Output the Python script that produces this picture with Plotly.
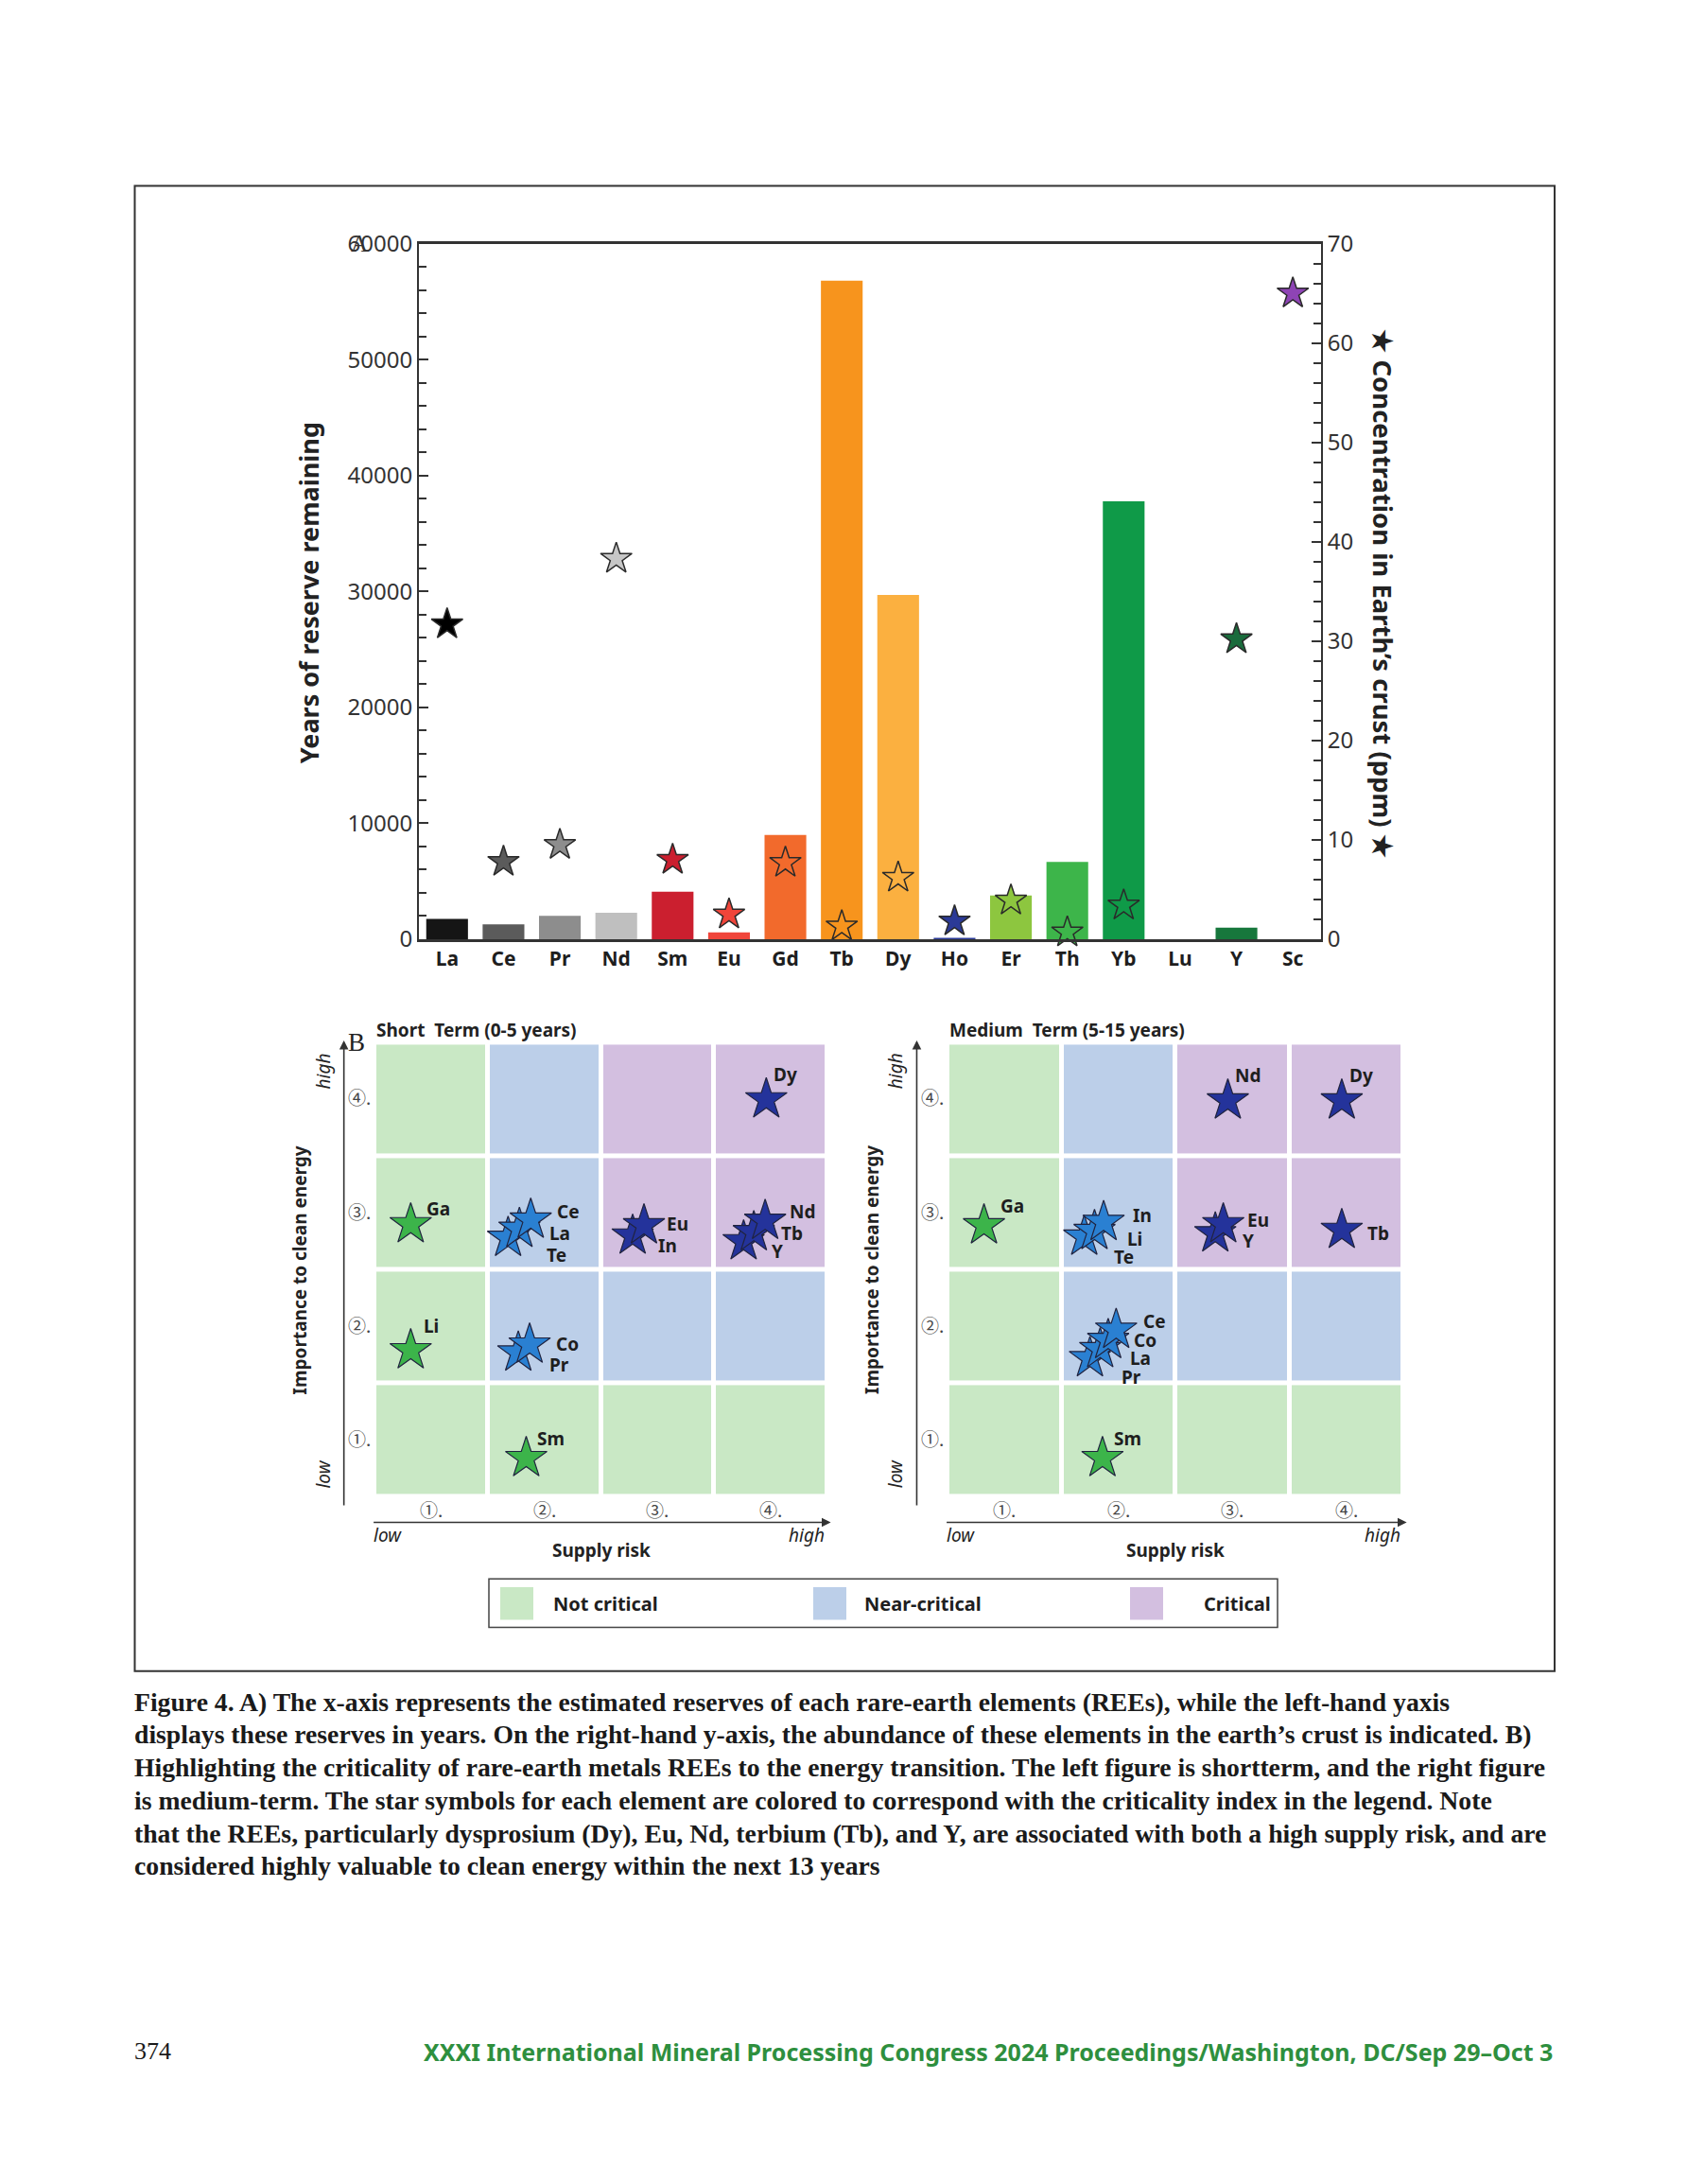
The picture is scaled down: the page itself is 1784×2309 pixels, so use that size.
import plotly.graph_objects as go

W, H = 1784, 2309

# ---------------- Panel A data ----------------
elements = ["La", "Ce", "Pr", "Nd", "Sm", "Eu", "Gd", "Tb", "Dy", "Ho", "Er", "Th", "Yb", "Lu", "Y", "Sc"]
reserve_years = [1750, 1290, 2020, 2280, 4090, 590, 9000, 56800, 29700, 120, 3770, 6660, 37780, None, 1000, None]
crust_ppm = [31.7, 7.8, 9.5, 38.3, 8.0, 2.5, 7.7, 1.3, 6.2, 1.8, 3.9, 0.7, 3.4, None, 30.2, 65.0]
left_ticks = [0, 10000, 20000, 30000, 40000, 50000, 60000]
right_ticks = [0, 10, 20, 30, 40, 50, 60, 70]

bar_colors = ["#151515", "#5b5b5b", "#8d8d8d", "#bfbfbf", "#cb1f2f", "#f0453a", "#f26a2c", "#f7941d",
              "#fbb040", "#2b3a97", "#8dc63f", "#3db54a", "#0f9a48", "#ffffff", "#17773c", "#ffffff"]
star_colors = ["#000000", "#5b5b5b", "#8d8d8d", "#c6c6c6", "#cb1f2f", "#f0453a", "#f26a2c", "#f7941d",
               "#fbb040", "#2b3a97", "#8dc63f", "#3db54a", "#0f9a48", "#ffffff", "#1a6b3c", "#8e44b5"]

# ---------------- Panel B data ----------------
circled = ["①.", "②.", "③.", "④."]
criticality_names = ["Not critical", "Near-critical", "Critical"]
criticality_colors = ["#c9e8c5", "#bccfe9", "#d3bfe0"]
# rows: importance 1..4 (bottom->top), cols: supply risk 1..4
criticality_grid = [[0, 0, 0, 0],
                    [0, 1, 1, 1],
                    [0, 1, 2, 2],
                    [0, 1, 2, 2]]
cell_centers = [0.5, 1.5, 2.5, 3.5]
star_class_colors = ["#3cb44a", "#2a80d2", "#24339b"]

short_elements = ["Dy", "Ga", "Te", "La", "Ce", "In", "Eu", "Y", "Tb", "Nd", "Li", "Pr", "Co", "Sm"]
short_risk = [3.46, 0.32, 1.18, 1.28, 1.38, 2.28, 2.38, 3.26, 3.35, 3.45, 0.32, 1.27, 1.37, 1.34]
short_importance = [3.50, 2.40, 2.28, 2.36, 2.44, 2.30, 2.39, 2.25, 2.33, 2.43, 1.29, 1.27, 1.34, 0.34]
short_class = [2, 0, 1, 1, 1, 2, 2, 2, 2, 2, 0, 1, 1, 0]

medium_elements = ["Nd", "Dy", "Ga", "Te", "Li", "In", "Y", "Eu", "Tb", "Pr", "La", "Co", "Ce", "Sm"]
medium_risk = [2.46, 3.46, 0.32, 1.20, 1.29, 1.37, 2.35, 2.42, 3.46, 1.25, 1.34, 1.41, 1.48, 1.36]
medium_importance = [3.49, 3.49, 2.39, 2.29, 2.34, 2.42, 2.32, 2.40, 2.35, 1.22, 1.30, 1.38, 1.47, 0.34]
medium_class = [2, 2, 0, 1, 1, 1, 2, 2, 2, 1, 1, 1, 1, 0]

# label offsets (px) relative to star centre
short_label_shift = {"Dy": (6, 26), "Ga": (15, 16), "Ce": (26, 9), "La": (30, -5), "Te": (39, -18),
                     "Eu": (22, 2), "In": (25, -11), "Nd": (24, 10), "Tb": (27, -1), "Y": (28, -11),
                     "Li": (12, 26), "Co": (26, 1), "Pr": (31, -13), "Sm": (10, 21)}
medium_label_shift = {"Nd": (6, 27), "Dy": (6, 27), "Ga": (15, 21), "In": (29, 7), "Li": (33, -8),
                      "Te": (29, -21), "Eu": (23, 4), "Y": (27, -8), "Tb": (25, -4), "Ce": (27, 9),
                      "Co": (25, 0), "La": (30, -10), "Pr": (31, -20), "Sm": (10, 21)}

caption_lines = [
    "Figure 4. A) The x-axis represents the estimated reserves of each rare-earth elements (REEs), while the left-hand yaxis",
    "displays these reserves in years. On the right-hand y-axis, the abundance of these elements in the earth’s crust is indicated. B)",
    "Highlighting the criticality of rare-earth metals REEs to the energy transition. The left figure is shortterm, and the right figure",
    "is medium-term. The star symbols for each element are colored to correspond with the criticality index in the legend. Note",
    "that the REEs, particularly dysprosium (Dy), Eu, Nd, terbium (Tb), and Y, are associated with both a high supply risk, and are",
    "considered highly valuable to clean energy within the next 13 years",
]
page_number = "374"
footer_text = "XXXI International Mineral Processing Congress 2024 Proceedings/Washington, DC/Sep 29–Oct 3"

SANS = "Noto Sans"
SERIF = "Liberation Serif"


def fx(px):
    return px / W


def fy(py):
    return 1 - py / H


# pixel boxes
A_BOX = dict(x0=435, x1=1389, y0=235, y1=981)
B_BOXES = {"x3": dict(x0=388, x1=867, y0=1092, y1=1579), "x4": dict(x0=994, x1=1476, y0=1092, y1=1579)}


def bpx(xa, u, v):
    b = B_BOXES[xa]
    return b["x0"] + u / 4 * (b["x1"] - b["x0"]), b["y1"] - v / 4 * (b["y1"] - b["y0"])


fig = go.Figure()

# ---------------- Panel A ----------------
fig.add_trace(go.Bar(x=elements, y=reserve_years, marker=dict(color=bar_colors, line_width=0),
                     width=0.74, xaxis="x", yaxis="y", showlegend=False, hoverinfo="skip"))
fig.add_trace(go.Scatter(x=elements, y=crust_ppm, mode="markers",
                         marker=dict(symbol="star", size=25, color=star_colors,
                                     line=dict(color="#2a2a2a", width=1.5)),
                         xaxis="x", yaxis="y2", cliponaxis=False, showlegend=False, hoverinfo="skip"))

# ---------------- Panel B ----------------
cscale = [[0, criticality_colors[0]], [1 / 3, criticality_colors[0]],
          [1 / 3, criticality_colors[1]], [2 / 3, criticality_colors[1]],
          [2 / 3, criticality_colors[2]], [1, criticality_colors[2]]]
for xa, ya in [("x3", "y3"), ("x4", "y4")]:
    fig.add_trace(go.Heatmap(z=criticality_grid, x=cell_centers, y=cell_centers, xaxis=xa, yaxis=ya,
                             zmin=0, zmax=2, colorscale=cscale, showscale=False, xgap=5, ygap=5,
                             hoverinfo="skip"))

for xa, ya, rx, iy, cl in [("x3", "y3", short_risk, short_importance, short_class),
                           ("x4", "y4", medium_risk, medium_importance, medium_class)]:
    fig.add_trace(go.Scatter(x=rx, y=iy, mode="markers", xaxis=xa, yaxis=ya,
                             marker=dict(symbol="star", size=33,
                                         color=[star_class_colors[c] for c in cl],
                                         line=dict(color="#20233f", width=1.2)),
                             cliponaxis=False, showlegend=False, hoverinfo="skip"))

annotations = []


def ptext(px, py, text, size, weight="normal", style="normal", family=SANS, angle=0, xanchor="center",
          color="#222"):
    annotations.append(dict(x=fx(px), y=fy(py), xref="paper", yref="paper", text=text, showarrow=False,
                            xanchor=xanchor, yanchor="middle", textangle=angle,
                            font=dict(family=family, size=size, color=color, weight=weight, style=style)))


# element labels in panel B
for xa, ya, names, rx, iy, shifts in [("x3", "y3", short_elements, short_risk, short_importance, short_label_shift),
                                      ("x4", "y4", medium_elements, medium_risk, medium_importance, medium_label_shift)]:
    for n, x, y in zip(names, rx, iy):
        dx, dy = shifts[n]
        annotations.append(dict(x=x, y=y, xref=xa, yref=ya, text=n, showarrow=False, xanchor="left",
                                yanchor="middle", xshift=dx, yshift=dy,
                                font=dict(family=SANS, size=19, color="#1e1e1e", weight="bold")))

# decorations for each matrix
for xa, title in [("x3", "Short  Term (0-5 years)"), ("x4", "Medium  Term (5-15 years)")]:
    b = B_BOXES[xa]
    cw = (b["x1"] - b["x0"]) / 4
    ch = (b["y1"] - b["y0"]) / 4
    # vertical arrow
    hx, hy = bpx(xa, -0.27, 4.02)
    annotations.append(dict(x=fx(hx), y=fy(hy), xref="paper", yref="paper", ax=0, ay=4.05 * ch,
                            text="", showarrow=True, arrowhead=2, arrowsize=1.2, arrowwidth=1.6,
                            arrowcolor="#333"))
    # horizontal arrow
    hx, hy = bpx(xa, 4.03, -0.225)
    annotations.append(dict(x=fx(hx), y=fy(hy), xref="paper", yref="paper", ax=-4.05 * cw, ay=0,
                            text="", showarrow=True, arrowhead=2, arrowsize=1.2, arrowwidth=1.6,
                            arrowcolor="#333"))
    for i, c in enumerate(circled):
        px_, py_ = bpx(xa, -0.13, cell_centers[i] + 0.02)
        ptext(px_, py_, c, 19, family="Noto Sans CJK SC", color="#444")
        px_, py_ = bpx(xa, cell_centers[i], -0.11)
        ptext(px_, py_, c, 19, family="Noto Sans CJK SC", color="#444")
    px_, py_ = bpx(xa, -0.45, 3.75)
    ptext(px_, py_, "high", 19, style="italic", angle=-90)
    px_, py_ = bpx(xa, -0.45, 0.2)
    ptext(px_, py_, "low", 19, style="italic", angle=-90)
    px_, py_ = bpx(xa, -0.66, 2.0)
    ptext(px_, py_, "Importance to clean energy", 19, weight="bold", angle=-90)
    px_, py_ = bpx(xa, 0.12, -0.34)
    ptext(px_, py_, "low", 19, style="italic")
    px_, py_ = bpx(xa, 3.82, -0.34)
    ptext(px_, py_, "high", 19, style="italic")
    px_, py_ = bpx(xa, 2.0, -0.47)
    ptext(px_, py_, "Supply risk", 19, weight="bold")
    px_, py_ = bpx(xa, 0.0, 4.11)
    ptext(px_, py_, title, 19, weight="bold", xanchor="left")

px_, py_ = bpx("x3", -0.16, 4.0)
ptext(px_, py_, "B", 27, family=SERIF)

# Panel A titles and label A
ptext(318, 610, "Years of reserve remaining", 27, weight="bold", angle=-90)
ptext(1455, 610, "★ Concentration in Earth’s crust (ppm) ★", 27.5, weight="bold", angle=90)
ptext(372, A_BOX["y0"], "A", 25, family=SERIF, color="#333")

# legend (manual)
shapes = []
shapes.append(dict(type="rect", xref="paper", yref="paper", x0=fx(509), x1=fx(1343), y0=fy(1719), y1=fy(1667),
                   line=dict(color="#444", width=1.5), fillcolor="rgba(0,0,0,0)"))
legend_swatch_x = [521, 852, 1187]
legend_text_x = [575, 904, 1263]
for name, col, sx, tx in zip(criticality_names, criticality_colors, legend_swatch_x, legend_text_x):
    shapes.append(dict(type="rect", xref="paper", yref="paper", x0=fx(sx), x1=fx(sx + 35),
                       y0=fy(1711), y1=fy(1676), line=dict(width=0), fillcolor=col))
    ptext(tx, 1694, name, 20, weight="bold", xanchor="left", color="#1e1e1e")

# outer frame
shapes.append(dict(type="rect", xref="paper", yref="paper", x0=fx(134.5), x1=fx(1636), y0=fy(1766), y1=fy(173),
                   line=dict(color="#333", width=2), fillcolor="rgba(0,0,0,0)", layer="below"))

# caption
for i, line in enumerate(caption_lines):
    ptext(131.5, 1799 + 35.2 * i, line, 27.7, weight="bold", family=SERIF, xanchor="left", color="#1a1a1a")

# footer
ptext(131.5, 2174, page_number, 26, family=SERIF, xanchor="left", color="#1a1a1a")
annotations.append(dict(x=fx(1636), y=fy(2174), xref="paper", yref="paper", text=footer_text, showarrow=False,
                        xanchor="right", yanchor="middle",
                        font=dict(family=SANS, size=25, color="#2e8f3e", weight="bold")))

axis_font = dict(family=SANS, size=24, color="#333")
fig.update_layout(
    width=W, height=H, margin=dict(l=0, r=0, t=0, b=0),
    paper_bgcolor="white", plot_bgcolor="rgba(0,0,0,0)", showlegend=False,
    xaxis=dict(domain=[fx(A_BOX["x0"]), fx(A_BOX["x1"])], anchor="y", type="category", range=[-0.5, 15.5],
               showline=True, mirror=True, linecolor="#333", linewidth=2.5, ticks="", showgrid=False,
               tickfont=dict(family=SANS, size=21, color="#1e1e1e", weight="bold")),
    yaxis=dict(domain=[fy(A_BOX["y1"]), fy(A_BOX["y0"])], anchor="x", range=[0, 60000], tickvals=left_ticks,
               ticktext=[str(v) for v in left_ticks],
               ticks="inside", ticklen=10, tickwidth=1.5, tickcolor="#333", showline=True, linecolor="#333",
               linewidth=2, showgrid=False, zeroline=False, tickfont=axis_font,
               minor=dict(ticks="inside", dtick=2000, ticklen=8, tickwidth=1.5, tickcolor="#333")),
    yaxis2=dict(overlaying="y", side="right", anchor="x", range=[0, 70], tickvals=right_ticks,
                ticktext=[str(v) for v in right_ticks],
                ticks="inside", ticklen=10, tickwidth=1.5, tickcolor="#333", showline=True, linecolor="#333",
                linewidth=2, showgrid=False, zeroline=False, tickfont=axis_font,
                minor=dict(ticks="inside", dtick=2, ticklen=8, tickwidth=1.5, tickcolor="#333")),
    xaxis3=dict(domain=[fx(B_BOXES["x3"]["x0"]), fx(B_BOXES["x3"]["x1"])], anchor="y3", range=[0, 4], visible=False),
    yaxis3=dict(domain=[fy(B_BOXES["x3"]["y1"]), fy(B_BOXES["x3"]["y0"])], anchor="x3", range=[0, 4], visible=False),
    xaxis4=dict(domain=[fx(B_BOXES["x4"]["x0"]), fx(B_BOXES["x4"]["x1"])], anchor="y4", range=[0, 4], visible=False),
    yaxis4=dict(domain=[fy(B_BOXES["x4"]["y1"]), fy(B_BOXES["x4"]["y0"])], anchor="x4", range=[0, 4], visible=False),
    annotations=annotations, shapes=shapes,
)

fig.write_html("out.html")
